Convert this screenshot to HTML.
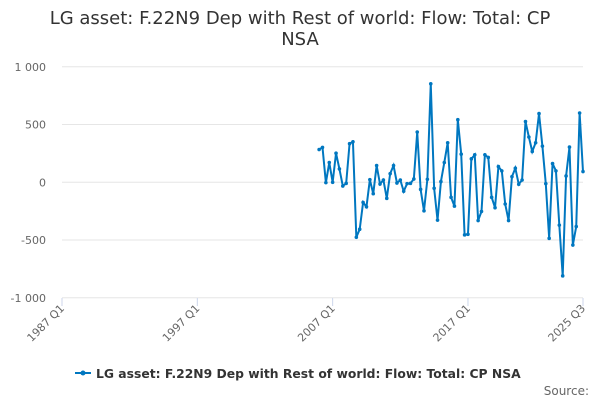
<!DOCTYPE html>
<html><head><meta charset="utf-8"><style>
body{margin:0;background:#fff;font-family:"DejaVu Sans",sans-serif;}
</style></head><body>
<svg id="c" width="600" height="400" xmlns="http://www.w3.org/2000/svg" font-family="DejaVu Sans, sans-serif">
<text x="300" y="24" text-anchor="middle" font-size="18" fill="#333">LG asset: F.22N9 Dep with Rest of world: Flow: Total: CP</text>
<text x="300" y="45" text-anchor="middle" font-size="18" fill="#333">NSA</text>
<g id="grid"></g><g id="xax"></g><g id="series"></g>
<g>
<line x1="75" y1="373" x2="91" y2="373" stroke="#0077c0" stroke-width="2"/>
<circle cx="83" cy="373" r="2.5" fill="#0077c0"/>
<text x="96" y="378" font-size="12.35" font-weight="bold" fill="#333">LG asset: F.22N9 Dep with Rest of world: Flow: Total: CP NSA</text>
</g>
<text x="589" y="395" text-anchor="end" font-size="12" fill="#666">Source:</text>
</svg>
<script>
const yTicks=[1000,500,0,-500,-1000];
const yTickLabels=["1 000","500","0","-500","-1 000"];
const xTickIdx=[0,40,80,120,154];
const xTickLabels=["1987 Q1","1997 Q1","2007 Q1","2017 Q1","2025 Q3"];
const startIdx=76;
const values=[284,302,-3,171,0,252,116,-32,-9,334,351,-476,-406,-174,-212,23,-99,145,-15,20,-139,75,145,-6,20,-78,-12,-9,29,435,-61,-247,26,853,-52,-328,6,171,342,-130,-206,542,244,-455,-450,203,238,-331,-252,238,215,-130,-220,136,99,-188,-331,49,122,-17,20,526,392,267,342,595,313,-12,-485,162,99,-371,-810,55,305,-543,-383,600,93];
const NS="http://www.w3.org/2000/svg";
const x0=62,x1=583,nQ=154;
const xs=i=>x0+(i)*(x1-x0)/nQ;
const ys=v=>182.3-v*0.1155;
const grid=document.getElementById('grid');
yTicks.forEach((t,k)=>{
 const l=document.createElementNS(NS,'line');
 
 
 l.setAttribute('x1',x0);l.setAttribute('x2',x1);l.setAttribute('y1',ys(t));l.setAttribute('y2',ys(t));
 l.setAttribute('stroke','#e6e6e6');grid.appendChild(l);
 const tx=document.createElementNS(NS,'text');
 
 
 tx.setAttribute('x',46);tx.setAttribute('y',ys(t)+4);tx.setAttribute('text-anchor','end');
 tx.setAttribute('font-size','11');tx.setAttribute('fill','#666');tx.textContent=yTickLabels[k];grid.appendChild(tx);
});
const xax=document.getElementById('xax');
xTickIdx.forEach((q,k)=>{
 const x=xs(q);
 const l=document.createElementNS(NS,'line');
 
 
 l.setAttribute('x1',x);l.setAttribute('x2',x);l.setAttribute('y1',298);l.setAttribute('y2',306);
 l.setAttribute('stroke','#ccd6eb');xax.appendChild(l);
 const tx=document.createElementNS(NS,'text');
 
 
 tx.setAttribute('text-anchor','end');tx.setAttribute('font-size','11');tx.setAttribute('fill','#666');
 tx.setAttribute('transform','translate('+(x+3)+',309) rotate(-45)');
 tx.textContent=xTickLabels[k];xax.appendChild(tx);
});
const s=document.getElementById('series');
const p=document.createElementNS(NS,'path');


p.setAttribute('d',values.map((v,i)=>(i?'L':'M')+xs(startIdx+i).toFixed(2)+' '+ys(v).toFixed(2)).join(' '));
p.setAttribute('fill','none');p.setAttribute('stroke','#0077c0');p.setAttribute('stroke-width','2');
s.appendChild(p);
values.forEach((v,i)=>{
 const c=document.createElementNS(NS,'circle');
 
 
 c.setAttribute('cx',xs(startIdx+i));c.setAttribute('cy',ys(v));c.setAttribute('r','1.8');c.setAttribute('fill','#0077c0');
 s.appendChild(c);
});
</script>
</body></html>
